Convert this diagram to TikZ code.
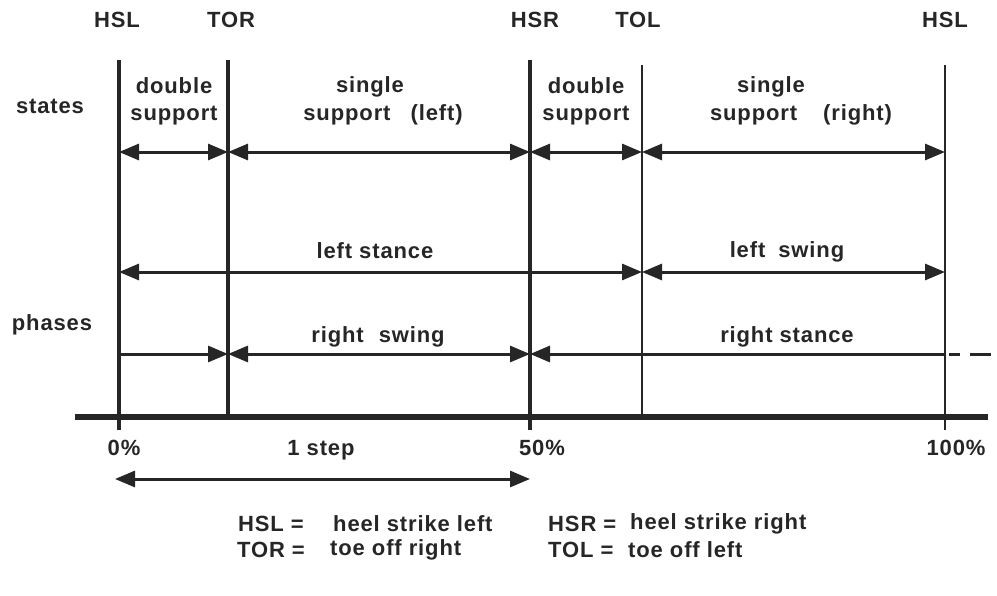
\documentclass[tikz,border=0pt]{standalone}
\usepackage{fontspec}
\setmainfont[LetterSpace=5,BoldFont={Liberation Sans Bold},BoldFeatures={LetterSpace=4}]{Liberation Sans}
\usetikzlibrary{arrows.meta}
\begin{document}
\begin{tikzpicture}[x=1pt,y=-1pt,
  font=\fontsize{22}{27}\selectfont\bfseries,
  lbl/.style={inner sep=0pt,align=center,text=black!85},
  vthick/.style={line width=3.4pt,draw=black!85},
  vthin/.style={line width=2.5pt,draw=black!85},
  axisline/.style={line width=6pt,draw=black!85},
  tipL/.style={{Triangle[length=20pt,width=16pt]}-},
  tipR/.style={-{Triangle[length=20pt,width=16pt]}},
  tipLR/.style={{Triangle[length=20pt,width=16pt]}-{Triangle[length=20pt,width=16pt]}},
  dimline/.style={line width=3pt,draw=black!85,fill=black!85},
  ]
\useasboundingbox (0,0) rectangle (997,595);
% coordinates of the five event lines
\foreach \n/\x/\t/\b in {A/119/60/430,B/228/60/417,C/530/60/430,D/642/65/417,E/945/65/430}{
  \coordinate (\n T) at (\x,\t);
  \coordinate (\n B) at (\x,\b);
  \coordinate (\n S) at (\x,152);
  \coordinate (\n L) at (\x,272);
  \coordinate (\n R) at (\x,354);
}
\coordinate (ax0) at (75,417);
\coordinate (ax1) at (988,417);
\coordinate (dash0) at (949,354);
\coordinate (dash1) at (991,354);
\coordinate (step0) at (115,479);
\coordinate (step1) at (530,479);
% vertical lines
\draw[vthick] (AT) -- (AB);
\draw[vthick] (BT) -- (BB);
\draw[vthick] (CT) -- (CB);
\draw[vthin] (DT) -- (DB);
\draw[vthin] (ET) -- (EB);
% axis
\draw[axisline] (ax0) -- (ax1);
% states
\draw[dimline,tipLR] (AS) -- (BS);
\draw[dimline,tipLR] (BS) -- (CS);
\draw[dimline,tipLR] (CS) -- (DS);
\draw[dimline,tipLR] (DS) -- (ES);
% left leg phases
\draw[dimline,tipLR] (AL) -- (DL);
\draw[dimline,tipLR] (DL) -- (EL);
% right leg phases
\draw[dimline,tipR] (AR) -- (BR);
\draw[dimline,tipLR] (BR) -- (CR);
\draw[dimline,tipL] (CR) -- (ER);
\draw[line width=3pt,draw=black!85,dash pattern=on 11pt off 10pt on 21pt off 2pt] (dash0) -- (dash1);
% one step
\draw[dimline,tipLR] (step0) -- (step1);
% event labels
\node[lbl] (hsl1) at (117,20) {HSL};
\node[lbl] (tor) at (231,20) {TOR};
\node[lbl] (hsr) at (535,20) {HSR};
\node[lbl] (tol) at (638,20) {TOL};
\node[lbl] (hsl2) at (945,20) {HSL};
% row labels
\node[lbl] (states) at (50,106) {states};
\node[lbl] (phases) at (52,325) {phases};
% state labels
\node[lbl] (ds1) at (174,101) {double\\support};
\node[lbl] (ds2) at (586,101) {double\\support};
\node[lbl] (ssl1) at (370,87) {single};
\node[lbl] (ssl2) at (383,115) {support\hspace{20pt}(left)};
\node[lbl] (ssr1) at (771,87) {single};
\node[lbl] (ssr2) at (801,115) {support\hspace{26pt}(right)};
% phase labels
\node[lbl] (lst) at (375,251) {left stance};
\node[lbl] (rsw) at (378,337) {right\hspace{8pt} swing};
\node[lbl] (lsw) at (787,252) {left\hspace{6pt} swing};
\node[lbl] (rst) at (787,337) {right stance};
% axis labels
\node[lbl] (p0) at (124,448) {0\%};
\node[lbl] (p50) at (542,448) {50\%};
\node[lbl] (p100) at (956,448) {100\%};
\node[lbl] (step) at (321,450) {1 step};
% legend
\node[lbl,anchor=west] (k1) at (238,524) {HSL =};
\node[lbl,anchor=west] (v1) at (333,524) {heel strike left};
\node[lbl,anchor=west] (k2) at (237,550) {TOR =};
\node[lbl,anchor=west] (v2) at (330,550) {toe off right};
\node[lbl,anchor=west] (k3) at (548,524) {HSR =};
\node[lbl,anchor=west] (v3) at (630,524) {heel strike right};
\node[lbl,anchor=west] (k4) at (548,550) {TOL =};
\node[lbl,anchor=west] (v4) at (628,550) {toe off left};
\end{tikzpicture}
\end{document}
